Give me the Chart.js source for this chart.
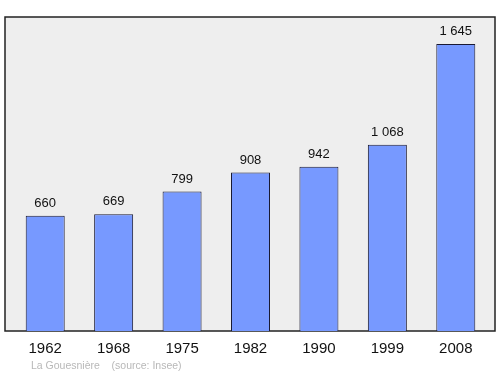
<!DOCTYPE html>
<html>
<head>
<meta charset="utf-8">
<script src="https://cdn.jsdelivr.net/npm/chart.js@4/dist/chart.umd.min.js"></script>
<style>
  html, body { margin: 0; padding: 0; background: #fff; }
  #wrap { position: relative; width: 500px; height: 374px; }
  #note {
    position: absolute; left: 31px; top: 359px;
    font-family: "Liberation Sans", Arial, sans-serif; font-size: 10.5px; color: #b8b8b8;
    white-space: pre;
  }
</style>
</head>
<body>
<div id="wrap">
  <canvas id="pop_chart" width="500" height="374"></canvas>
  <div id="note">La Gouesnière    (source: Insee)</div>
</div>
<script>
const years = ['1962', '1968', '1975', '1982', '1990', '1999', '2008']
const population = [660, 669, 799, 908, 942, 1068, 1645]
const yMax = 1800

// space as thousands separator, like the source
function fmt(v){
    return String(v).replace(/\B(?=(\d{3})+(?!\d))/g, ' ')
}

// grey plot box behind the bars
const frame = {
    id: 'frame',
    beforeDraw: function (chart){
        const a = chart.chartArea
        const ctx = chart.ctx
        ctx.save()
        ctx.fillStyle = '#eeeeee'
        ctx.fillRect(a.left - 6, a.top, a.right - a.left + 11, a.bottom - a.top)
        ctx.strokeStyle = '#222'
        ctx.lineWidth = 1.5
        ctx.strokeRect(a.left - 6, a.top, a.right - a.left + 11, a.bottom - a.top)
        ctx.restore()
    }
}

// value labels above each bar
const valueLabels = {
    id: 'valueLabels',
    afterDatasetsDraw: function (chart){
        const ctx = chart.ctx
        const meta = chart.getDatasetMeta(0)
        ctx.save()
        ctx.font = '13px "Liberation Sans", Arial, sans-serif'
        ctx.fillStyle = '#111'
        ctx.textAlign = 'center'
        ctx.textBaseline = 'bottom'
        meta.data.forEach(function (bar, i){
            ctx.fillText(fmt(population[i]), bar.x, bar.y - 6)
        })
        ctx.restore()
    }
}

new Chart(document.getElementById('pop_chart').getContext('2d'), {
    type: 'bar',
    data: {
        labels: years,
        datasets: [{
            data: population,
            backgroundColor: 'rgb(119, 153, 255)',
            borderColor: '#1a1a33',
            borderWidth: 1,
            barPercentage: 0.57,
            categoryPercentage: 1
        }]
    },
    options: {
        responsive: false,
        animation: false,
        layout: {
            padding: { left: 11, right: 10, top: 17, bottom: 7 }
        },
        plugins: {
            legend: { display: false },
            tooltip: { enabled: false }
        },
        scales: {
            x: {
                offset: true,
                grid: { display: false, drawTicks: false },
                border: { display: false },
                ticks: {
                    padding: 9,
                    color: '#111',
                    font: { family: '"Liberation Sans", Arial, sans-serif', size: 15 }
                }
            },
            y: {
                display: false,
                min: 0,
                max: yMax
            }
        }
    },
    plugins: [frame, valueLabels]
})
</script>
</body>
</html>
